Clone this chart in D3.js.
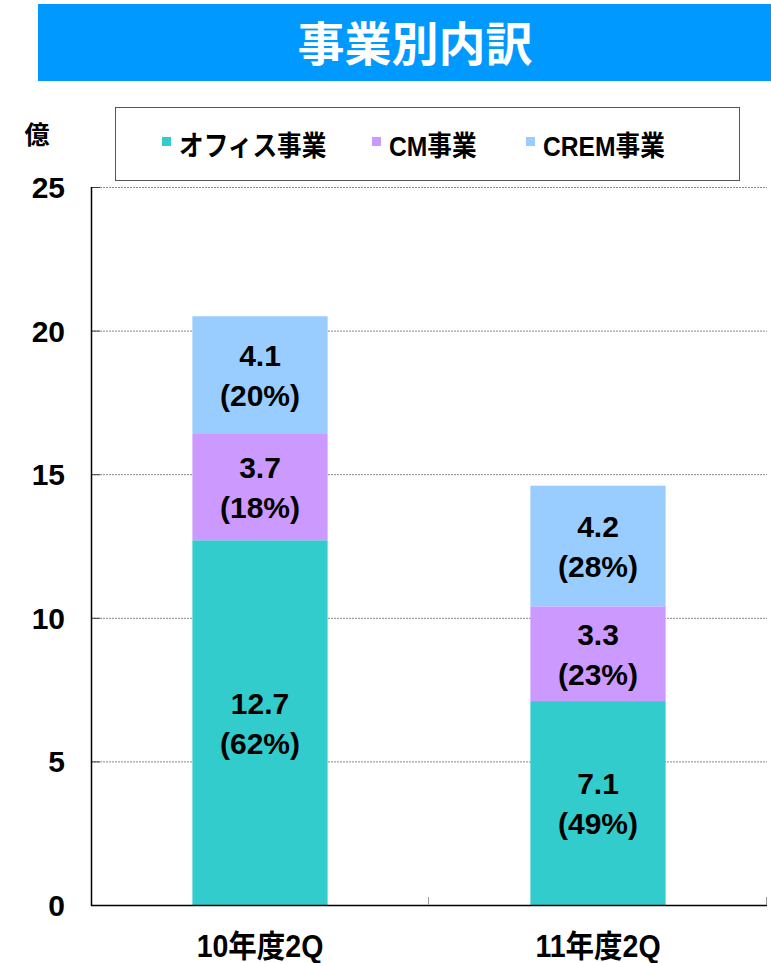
<!DOCTYPE html>
<html><head><meta charset="utf-8">
<script src="https://cdn.jsdelivr.net/npm/d3@7"></script>
<style>html,body{margin:0;padding:0;background:#fff;}svg{display:block;}</style>
</head><body>
<script>
const categories = ["10年度2Q", "11年度2Q"];
const seriesNames = ["オフィス事業", "CM事業", "CREM事業"];
const office = [12.7, 7.1];
const cm = [3.7, 3.3];
const crem = [4.1, 4.2];
const officePct = ["62%", "49%"];
const cmPct = ["18%", "23%"];
const cremPct = ["20%", "28%"];
const yTicks = [0, 5, 10, 15, 20, 25];
const colors = ["#33CCCC", "#CC99FF", "#99CCFF"];

const W = 771, H = 963;
const svg = d3.select("body").append("svg").attr("width", W).attr("height", H);
const JP = "'Liberation Sans','Noto Sans CJK JP',sans-serif";

// title
svg.append("rect").attr("x", 38).attr("y", 4).attr("width", W - 38).attr("height", 77).attr("fill", "#0099FF");
svg.append("text").attr("x", 415).attr("y", 61).attr("text-anchor", "middle")
  .attr("font-family", "'Noto Sans CJK JP',sans-serif").attr("font-weight", "bold")
  .attr("font-size", 47).attr("fill", "#fff").text("事業別内訳");

const x0 = 91, x1 = 767, yTop = 187, yBot = 905;
const x = d3.scaleBand().domain(categories).range([x0, x1]).padding(0);
const y = d3.scaleLinear().domain([0, 25]).range([yBot, yTop]);

// gridlines
svg.append("g").selectAll("line").data(yTicks.filter(t => t > 0)).join("line")
  .attr("x1", x0).attr("x2", x1).attr("y1", d => y(d) + 0.5).attr("y2", d => y(d) + 0.5)
  .attr("stroke", "#888").attr("stroke-width", 1).attr("stroke-dasharray", "2,1");
svg.append("g").selectAll("line").data(yTicks.filter(t => t > 0)).join("line")
  .attr("x1", x0).attr("x2", x0 + 9).attr("y1", d => y(d) + 0.5).attr("y2", d => y(d) + 0.5)
  .attr("stroke", "#444").attr("stroke-width", 1);

// data stacking
const rows = categories.map((c, i) => ({cat: c, office: office[i], cm: cm[i], crem: crem[i]}));
const pcts = [officePct, cmPct, cremPct];
const stack = d3.stack().keys(["office", "cm", "crem"])(rows);
const barW = x.bandwidth() * 0.4;

stack.forEach((layer, si) => {
  const g = svg.append("g");
  layer.forEach((d, i) => {
    const cx = x(d.data.cat) + x.bandwidth() / 2;
    g.append("rect").attr("x", cx - barW / 2).attr("y", y(d[1]))
      .attr("width", barW).attr("height", y(d[0]) - y(d[1])).attr("fill", colors[si]);
    const c = (y(d[0]) + y(d[1])) / 2;
    g.append("text").attr("x", cx).attr("y", c - 9).attr("text-anchor", "middle")
      .attr("font-family", JP).attr("font-weight", "bold").attr("font-size", 30).attr("fill", "#000")
      .text(d3.format(".1f")(d[1] - d[0]));
    g.append("text").attr("x", cx).attr("y", c + 31).attr("text-anchor", "middle")
      .attr("font-family", JP).attr("font-weight", "bold").attr("font-size", 30).attr("fill", "#000")
      .text("(" + pcts[si][i] + ")");
  });
});

// axes lines
svg.append("line").attr("x1", x0 + 0.5).attr("x2", x0 + 0.5).attr("y1", yTop).attr("y2", yBot + 1)
  .attr("stroke", "#000").attr("stroke-width", 1.5);
svg.append("line").attr("x1", x0).attr("x2", x1).attr("y1", yBot + 0.5).attr("y2", yBot + 0.5)
  .attr("stroke", "#000").attr("stroke-width", 1.5);
// bottom category ticks
const bounds = categories.map(c => x(c)).concat([x1]);
svg.append("g").selectAll("line").data(bounds.slice(1)).join("line")
  .attr("x1", d => d - 0.5).attr("x2", d => d - 0.5).attr("y1", yBot - 8).attr("y2", yBot)
  .attr("stroke", "#999").attr("stroke-width", 1);

// y tick labels
svg.append("g").selectAll("text").data(yTicks).join("text")
  .attr("x", 65).attr("y", d => y(d) + 11).attr("text-anchor", "end")
  .attr("font-family", "'Liberation Sans',Arial,sans-serif").attr("font-weight", "bold")
  .attr("font-size", 30).attr("fill", "#000").text(d => d);
svg.append("text").attr("x", 37).attr("y", 144).attr("text-anchor", "middle")
  .attr("font-family", "'Noto Sans CJK JP',sans-serif").attr("font-weight", "bold")
  .attr("font-size", 25).attr("fill", "#000").text("億");

// x labels (slightly condensed, as in the reference)
svg.append("g").selectAll("text").data(categories).join("text")
  .attr("transform", d => `translate(${x(d) + x.bandwidth() / 2},957) scale(0.92,1)`)
  .attr("text-anchor", "middle")
  .attr("font-family", JP).attr("font-weight", "bold").attr("font-size", 31).attr("fill", "#000")
  .text(d => d);

// legend
svg.append("rect").attr("x", 115.5).attr("y", 107.5).attr("width", 624).attr("height", 73)
  .attr("fill", "#fff").attr("stroke", "#555").attr("stroke-width", 1);
const legX = [162, 372, 526];
seriesNames.forEach((n, i) => {
  svg.append("rect").attr("x", legX[i]).attr("y", 137).attr("width", 9).attr("height", 9).attr("fill", colors[i]);
  svg.append("text").attr("transform", `translate(${legX[i] + 17},156) scale(0.88,1)`)
    .attr("font-family", JP).attr("font-weight", "bold").attr("font-size", 28).attr("fill", "#000").text(n);
});
</script>
</body></html>
